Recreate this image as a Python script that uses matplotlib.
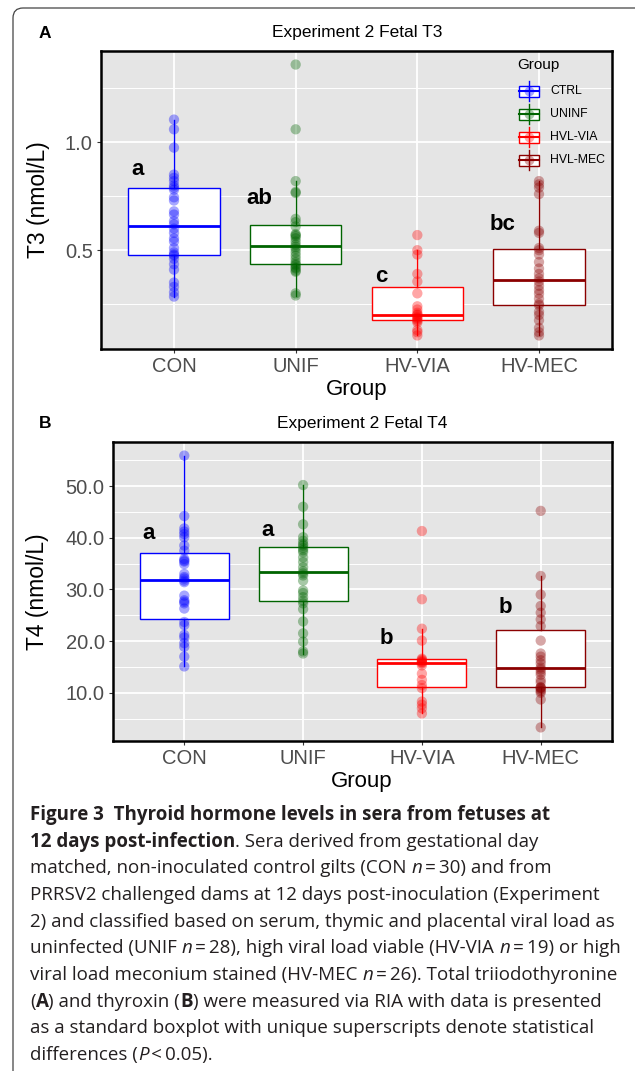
import numpy as np
import matplotlib
matplotlib.use("Agg")
import matplotlib.pyplot as plt
from matplotlib.patches import Rectangle, FancyBboxPatch
from matplotlib.lines import Line2D
from matplotlib.transforms import IdentityTransform

W, H, DPI = 635, 1071, 100

groups = ["CON", "UNIF", "HV-VIA", "HV-MEC"]
legend_labels = ["CTRL", "UNINF", "HVL-VIA", "HVL-MEC"]
colors = ["#0000FF", "#006400", "#FF0000", "#8B0000"]

# Panel A - T3 (nmol/L)
t3_con = [0.285, 0.305, 0.33, 0.35, 0.41, 0.435, 0.46, 0.475, 0.48, 0.49,
          0.51, 0.54, 0.555, 0.58, 0.60, 0.62, 0.635, 0.665, 0.68, 0.73,
          0.745, 0.78, 0.79, 0.80, 0.82, 0.835, 0.85, 0.975, 1.06, 1.105]
t3_unif = [0.29, 0.30, 0.40, 0.405, 0.415, 0.42, 0.43, 0.435, 0.445, 0.46,
           0.475, 0.49, 0.505, 0.515, 0.525, 0.54, 0.555, 0.565, 0.57, 0.575,
           0.61, 0.63, 0.645, 0.765, 0.77, 0.82, 1.06, 1.36]
t3_via = [0.105, 0.12, 0.13, 0.165, 0.172, 0.178, 0.185, 0.19, 0.198, 0.202,
          0.21, 0.225, 0.24, 0.30, 0.355, 0.39, 0.48, 0.50, 0.57]
t3_mec = [0.105, 0.12, 0.14, 0.175, 0.20, 0.215, 0.245, 0.252, 0.275, 0.298,
          0.315, 0.335, 0.355, 0.37, 0.39, 0.415, 0.445, 0.48, 0.50, 0.51,
          0.58, 0.59, 0.76, 0.79, 0.805, 0.82]
t3_letters = ["a", "ab", "c", "bc"]
t3_letter_y = [0.875, 0.74, 0.38, 0.62]
t3_ticks = [0.5, 1.0]
t3_ticklabels = ["0.5", "1.0"]
t3_minor = [0.25, 0.75, 1.25]

# Panel B - T4 (nmol/L)
t4_con = [15.1, 17.0, 18.9, 19.6, 20.7, 21.2, 23.1, 23.7, 26.3, 27.3,
          27.6, 27.9, 28.8, 31.4, 31.7, 32.1, 32.4, 33.0, 34.9, 35.4,
          35.6, 35.9, 37.5, 38.5, 40.1, 40.7, 41.2, 41.8, 44.2, 55.9]
t4_unif = [17.6, 18.0, 19.9, 21.5, 23.8, 26.2, 27.3, 27.8, 28.5, 29.3,
           29.8, 31.7, 32.7, 33.1, 33.5, 34.3, 35.3, 36.2, 37.2, 37.6,
           38.0, 38.5, 38.8, 39.4, 40.1, 42.6, 46.0, 50.2]
t4_via = [6.0, 7.0, 7.7, 8.3, 10.9, 11.5, 12.5, 13.7, 15.3, 15.7,
          15.9, 16.0, 16.2, 16.4, 16.6, 20.1, 22.4, 28.1, 41.3]
t4_mec = [3.3, 8.7, 10.0, 10.3, 10.6, 10.9, 11.0, 11.1, 12.0, 12.5,
          13.5, 14.0, 14.5, 14.9, 15.7, 16.3, 17.0, 17.6, 20.1, 22.9,
          24.2, 25.5, 26.8, 29.0, 32.6, 45.2]
t4_letters = ["a", "a", "b", "b"]
t4_letter_y = [40.8, 41.5, 20.6, 26.5]
t4_ticks = [10, 20, 30, 40, 50]
t4_ticklabels = ["10.0", "20.0", "30.0", "40.0", "50.0"]
t4_minor = [5, 15, 25, 35, 45, 55]

caption = [
    [("Figure 3  Thyroid hormone levels in sera from fetuses at", "b")],
    [("12 days post-infection", "b"), (". Sera derived from gestational day", "r")],
    [("matched, non-inoculated control gilts (CON ", "r"), ("n", "i"), ("\u2009=\u200930) and from", "r")],
    [("PRRSV2 challenged dams at 12 days post-inoculation (Experiment", "r")],
    [("2) and classified based on serum, thymic and placental viral load as", "r")],
    [("uninfected (UNIF ", "r"), ("n", "i"), ("\u2009=\u200928), high viral load viable (HV-VIA ", "r"),
     ("n", "i"), ("\u2009=\u200919) or high", "r")],
    [("viral load meconium stained (HV-MEC ", "r"), ("n", "i"), ("\u2009=\u200926). Total triiodothyronine", "r")],
    [("(", "r"), ("A", "b"), (") and thyroxin (", "r"), ("B", "b"), (") were measured via RIA with data is presented", "r")],
    [("as a standard boxplot with unique superscripts denote statistical", "r")],
    [("differences (", "r"), ("P", "i"), ("\u2009<\u20090.05).", "r")],
]

plt.rcParams['font.family'] = ['Liberation Sans', 'DejaVu Sans']

fig = plt.figure(figsize=(W / DPI, H / DPI), dpi=DPI)


def box_px(left, top, right, bottom):
    return [left / W, 1 - bottom / H, (right - left) / W, (bottom - top) / H]


def panel(ax, data, letters, letter_y, ticks, ticklabels, minor, ylabel):
    pos = np.arange(1, len(groups) + 1)
    lo = min(min(d) for d in data)
    hi = max(max(d) for d in data)
    pad = 0.05 * (hi - lo)
    ax.set_ylim(lo - pad, hi + pad)
    ax.set_xlim(0.4, 4.6)
    ax.set_facecolor("#E5E5E5")
    for y in minor:
        ax.axhline(y, color="white", lw=0.7, zorder=0.5)
    for y in ticks:
        ax.axhline(y, color="white", lw=1.3, zorder=0.5)
    for x in pos:
        ax.axvline(x, color="white", lw=1.3, zorder=0.5)

    for i, vals in enumerate(data):
        c = colors[i]
        ax.boxplot([vals], positions=[pos[i]], widths=0.75, whis=1.5,
                   showfliers=False, showcaps=False, patch_artist=True,
                   boxprops=dict(facecolor="white", edgecolor=c, lw=1.0),
                   medianprops=dict(color=c, lw=2.0),
                   whiskerprops=dict(color=c, lw=1.0))
        ax.scatter(np.full(len(vals), pos[i]), vals, s=55, color=c,
                   alpha=0.35, edgecolors="none", zorder=3)
        ax.text(pos[i] - 0.3, letter_y[i], letters[i], fontsize=16,
                fontweight="bold", ha="center", va="center")

    ax.set_xticks(pos, groups)
    ax.set_yticks(ticks, ticklabels)
    ax.tick_params(length=3, width=0.8, color="#333333", labelcolor="#4D4D4D",
                   labelsize=14.5, pad=3)
    for s in ax.spines.values():
        s.set_linewidth(1.8)
        s.set_color("black")
    ax.set_ylabel(ylabel, fontsize=16.5)


# ---------- Panel A ----------
axA = fig.add_axes(box_px(101, 51, 612, 349))
panel(axA, [t3_con, t3_unif, t3_via, t3_mec], t3_letters, t3_letter_y,
      t3_ticks, t3_ticklabels, t3_minor, "T3 (nmol/L)")
axA.yaxis.set_label_coords((50 - 101) / 511, 0.5)
fig.text(357 / W, 1 - 32 / H, "Experiment 2 Fetal T3", fontsize=12.5,
         ha="center", va="center")
fig.text(45 / W, 1 - 33 / H, "A", fontsize=12.5, fontweight="bold",
         ha="center", va="center")
fig.text(357 / W, 1 - 389 / H, "Group", fontsize=16, ha="center", va="center")

# legend (ggplot style keys)
fig.text(538 / W, 1 - 65 / H, "Group", fontsize=11, ha="center", va="center")
for i, lab in enumerate(legend_labels):
    cy = H - (91 + i * 23)
    cx = 529
    c = colors[i]
    tr = IdentityTransform()
    fig.add_artist(Line2D([cx, cx], [cy - 10, cy + 10], color=c, lw=1.0, transform=tr))
    fig.add_artist(Rectangle((cx - 10, cy - 5.5), 20, 11, facecolor="white",
                             edgecolor=c, lw=1.0, transform=tr))
    fig.add_artist(Line2D([cx - 10, cx + 10], [cy, cy], color=c, lw=1.5, transform=tr))
    fig.add_artist(Line2D([cx], [cy], marker="o", markersize=7, color=c,
                          markeredgewidth=0, alpha=0.35, transform=tr))
    fig.text(550 / W, cy / H, lab, fontsize=8.8, ha="left", va="center")

# ---------- Panel B ----------
axB = fig.add_axes(box_px(113, 442, 612, 741))
panel(axB, [t4_con, t4_unif, t4_via, t4_mec], t4_letters, t4_letter_y,
      t4_ticks, t4_ticklabels, t4_minor, "T4 (nmol/L)")
axB.yaxis.set_label_coords((49 - 113) / 499, 0.5)
fig.text(362 / W, 1 - 424 / H, "Experiment 2 Fetal T4", fontsize=12.5,
         ha="center", va="center")
fig.text(45 / W, 1 - 424 / H, "B", fontsize=12.5, fontweight="bold",
         ha="center", va="center")
fig.text(362 / W, 1 - 781 / H, "Group", fontsize=16, ha="center", va="center")

# ---------- outer rounded frame ----------
frame = FancyBboxPatch((13, -30), 660, H - 8 + 30,
                       boxstyle="round,pad=0,rounding_size=10",
                       fill=False, edgecolor="#444444", lw=0.9,
                       transform=IdentityTransform())
fig.add_artist(frame)

# ---------- caption ----------
cap_family = ['Open Sans', 'DejaVu Sans']
styles = {"r": dict(fontweight="normal", fontstyle="normal"),
          "b": dict(fontweight="bold", fontstyle="normal"),
          "i": dict(fontweight="normal", fontstyle="italic")}
fig.canvas.draw()
renderer = fig.canvas.get_renderer()


def run_width(s, kw, size):
    t = fig.text(0, 0, s + "|", fontsize=size, family=cap_family, **kw)
    w1 = t.get_window_extent(renderer).width
    t.set_text("|")
    w2 = t.get_window_extent(renderer).width
    t.remove()
    return w1 - w2


# size so that the widest caption line spans about 590 px
test = 12.0
widest = max(sum(run_width(s, styles[st], test) for s, st in line) for line in caption)
cap_size = test * 590 / widest

for k, line in enumerate(caption):
    base = 820 + k * 26.65
    x = 30.0
    for s, st in line:
        kw = styles[st]
        fig.text(x / W, 1 - base / H, s, fontsize=cap_size, family=cap_family,
                 ha="left", va="baseline", color="#231F20", **kw)
        x += run_width(s, kw, cap_size)

fig.savefig("out.png", dpi=DPI)
